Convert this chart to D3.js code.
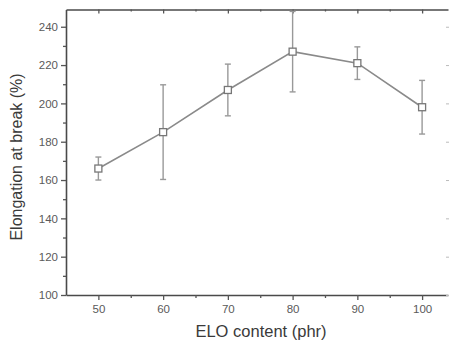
<!DOCTYPE html>
<html>
<head>
<meta charset="utf-8">
<script src="https://cdn.jsdelivr.net/npm/d3@7"></script>
<style>
  html, body { margin: 0; padding: 0; background: #fff; }
  svg { display: block; }
  text { font-family: "Liberation Sans", Arial, sans-serif; }
</style>
</head>
<body>
<svg id="chart" width="450" height="343"></svg>
<script>
// ELO content (phr) and elongation at break (%) with standard deviation
const eloContent = [50, 60, 70, 80, 90, 100];
const elongation = [166, 185, 207, 227, 221, 198];
const elongationErr = [6, 24.7, 13.5, 21, 8.5, 14];
const xTicks = [50, 60, 70, 80, 90, 100];
const yTicks = [100, 120, 140, 160, 180, 200, 220, 240];

(function () {
const svg = d3.select("#chart");
const plotLeft = 66, plotRight = 448, plotTop = 9.5, plotBottom = 295;

const x = d3.scaleLinear().domain([45, 104]).range([plotLeft, plotRight]);
const y = d3.scaleLinear().domain([100, 249]).range([plotBottom, plotTop]);

const axisColor = "#4a4a4a";
const tickColor = "#555";
const labelColor = "#5a5a5a";

// Minor tick values
const xMinor = d3.range(55, 104, 10);
const yMinor = d3.range(110, 249, 20);

// Bottom axis
const gx = svg.append("g").attr("transform", `translate(0,${plotBottom})`)
  .call(d3.axisBottom(x).tickValues(xTicks).tickSize(5).tickPadding(5).tickSizeOuter(0));
gx.append("g").call(d3.axisBottom(x).tickValues(xMinor).tickSize(3).tickFormat("").tickSizeOuter(0))
  .select(".domain").remove();

// Left axis
const gy = svg.append("g").attr("transform", `translate(${plotLeft},0)`)
  .call(d3.axisLeft(y).tickValues(yTicks).tickSize(5).tickPadding(3).tickSizeOuter(0));
gy.append("g").call(d3.axisLeft(y).tickValues(yMinor).tickSize(3).tickFormat("").tickSizeOuter(0))
  .select(".domain").remove();

// Top axis (ticks inward)
const gt = svg.append("g").attr("transform", `translate(0,${plotTop})`)
  .call(d3.axisBottom(x).tickValues(xTicks).tickSize(4).tickFormat("").tickSizeOuter(0));
gt.append("g").call(d3.axisBottom(x).tickValues(xMinor).tickSize(2).tickFormat("").tickSizeOuter(0))
  .select(".domain").remove();

[gx, gy, gt].forEach(g => {
  g.select(".domain").attr("stroke", axisColor).attr("stroke-width", 1.6);
  g.selectAll(".tick line").attr("stroke", tickColor).attr("stroke-width", 1.3);
});

// Right axis, faint ticks only
const gr = svg.append("g").attr("transform", `translate(${plotRight + 1},0)`)
  .call(d3.axisLeft(y).tickValues(yTicks).tickSize(3).tickFormat("").tickSizeOuter(0));
gr.select(".domain").remove();
gr.selectAll(".tick line").attr("stroke", "#bbb");

svg.selectAll(".tick text")
  .attr("fill", labelColor)
  .style("font-family", "'Liberation Sans', Arial, sans-serif")
  .style("font-size", "11.5px");

// Axis titles
svg.append("text")
  .attr("x", 261).attr("y", 337)
  .attr("text-anchor", "middle")
  .attr("fill", "#3a3a3a")
  .style("font-size", "16.5px")
  .text("ELO content (phr)");

svg.append("text")
  .attr("transform", "translate(22,157) rotate(-90)")
  .attr("text-anchor", "middle")
  .attr("fill", "#3a3a3a")
  .style("font-size", "16px")
  .text("Elongation at break (%)");

const data = eloContent.map((c, i) => ({ c, v: elongation[i], e: elongationErr[i] }));
const markColor = "#8a8a8a";

// Error bars
const eb = svg.append("g").attr("stroke", "#999").attr("stroke-width", 1.4);
data.forEach(d => {
  const lo = y(d.v - d.e), hi = y(Math.min(d.v + d.e, 249));
  eb.append("line").attr("x1", x(d.c)).attr("x2", x(d.c)).attr("y1", lo).attr("y2", hi);
  eb.append("line").attr("x1", x(d.c) - 3).attr("x2", x(d.c) + 3).attr("y1", lo).attr("y2", lo);
  if (d.v + d.e < 249) {
    eb.append("line").attr("x1", x(d.c) - 3).attr("x2", x(d.c) + 3).attr("y1", hi).attr("y2", hi);
  }
});

// Connecting line
svg.append("path")
  .datum(data)
  .attr("fill", "none")
  .attr("stroke", markColor)
  .attr("stroke-width", 1.6)
  .attr("d", d3.line().x(d => x(d.c)).y(d => y(d.v)));

// Open square markers
svg.append("g").selectAll("rect")
  .data(data)
  .join("rect")
  .attr("x", d => x(d.c) - 3.5)
  .attr("y", d => y(d.v) - 3.5)
  .attr("width", 7).attr("height", 7)
  .attr("fill", "#fff")
  .attr("stroke", "#777")
  .attr("stroke-width", 1.3);
})();
</script>
</body>
</html>
